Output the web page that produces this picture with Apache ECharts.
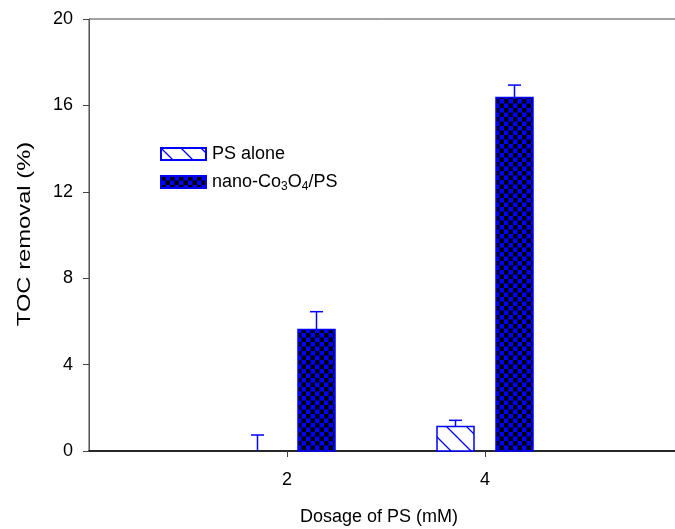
<!DOCTYPE html>
<html>
<head>
<meta charset="utf-8">
<script src="https://cdn.jsdelivr.net/npm/echarts@6/dist/echarts.min.js"></script>
<style>
  html, body { margin: 0; padding: 0; background: #fff; }
  #main { width: 675px; height: 529px; }
</style>
</head>
<body>
<div id="main"></div>
<script>
// data
const dosage = [2, 4];
const psAlone = [0, 1.13];
const psAloneErr = [0.74, 0.29];
const nanoCo = [5.63, 16.37];
const nanoCoErr = [0.82, 0.57];
const yTicks = [0, 4, 8, 12, 16, 20];

const BLUE = '#0000ff';
const FONT = 'Liberation Sans';

// hatch "\" pattern for PS alone
function makeHatch() {
	let c = document.createElement('canvas');
	c.width = 20; c.height = 20;
	let ctx = c.getContext('2d');
	ctx.fillStyle = '#fff';
	ctx.fillRect(0, 0, 20, 20);
	ctx.strokeStyle = BLUE;
	ctx.lineWidth = 1.3;
	ctx.beginPath();
	ctx.moveTo(-2, -2); ctx.lineTo(22, 22);
	ctx.moveTo(18, -2); ctx.lineTo(22, 2);
	ctx.moveTo(-2, 18); ctx.lineTo(2, 22);
	ctx.stroke();
	return c;
}

// checkerboard pattern for nano-Co3O4/PS
function makeChecker() {
	let c = document.createElement('canvas');
	c.width = 9; c.height = 9;
	let ctx = c.getContext('2d');
	ctx.fillStyle = BLUE;
	ctx.fillRect(0, 0, 9, 9);
	ctx.fillStyle = '#000';
	ctx.fillRect(0, 0, 4.5, 4.5);
	ctx.fillRect(4.5, 4.5, 4.5, 4.5);
	return c;
}

const hatchFill = { image: makeHatch(), repeat: 'repeat' };
const checkFill = { image: makeChecker(), repeat: 'repeat' };

function barSeries(name, vals, errs, offset, fill) {
	return {
		name: name,
		type: 'custom',
		itemStyle: { color: fill, borderColor: BLUE, borderWidth: 1.5 },
		data: dosage.map((d, i) => [d, vals[i], errs[i]]),
		renderItem: function (params, api) {
			let x = api.value(0), v = api.value(1), e = api.value(2);
			let base = api.coord([x, 0]);
			let top = api.coord([x, v]);
			let errTop = api.coord([x, v + e]);
			let cx = base[0] + offset;
			let w = 37;
			let children = [];
			if (v > 0) {
				children.push({
					type: 'rect',
					shape: { x: cx - w / 2, y: top[1], width: w, height: base[1] - top[1] },
					style: { fill: fill, stroke: BLUE, lineWidth: 1.5 }
				});
			}
			children.push({
				type: 'line',
				shape: { x1: cx, y1: top[1], x2: cx, y2: errTop[1] },
				style: { stroke: BLUE, lineWidth: 1.5 }
			});
			children.push({
				type: 'line',
				shape: { x1: cx - 6.5, y1: errTop[1], x2: cx + 6.5, y2: errTop[1] },
				style: { stroke: BLUE, lineWidth: 1.5 }
			});
			return { type: 'group', children: children };
		}
	};
}

let chart = echarts.init(document.getElementById('main'), null, { renderer: 'canvas' });

let option = {
	animation: false,
	backgroundColor: '#fff',
	textStyle: { fontFamily: FONT },
	grid: {
		left: 89, width: 594, top: 19, height: 432,
		outerBoundsMode: 'none', containLabel: false,
		show: true, borderColor: '#444', borderWidth: 1, backgroundColor: 'transparent'
	},
	// y title is drawn stretched along its length, like the original
	graphic: [{
		type: 'text',
		x: 25, y: 234,
		rotation: Math.PI / 2,
		scaleX: 1.32,
		style: {
			text: 'TOC removal (%)',
			font: '18px "Liberation Sans"',
			fill: '#000',
			textAlign: 'center',
			textVerticalAlign: 'middle'
		}
	}],
	legend: {
		left: 160, top: 145, orient: 'vertical', padding: 0,
		itemWidth: 45, itemHeight: 12, itemGap: 10,
		icon: 'rect',
		data: ['PS alone', 'nano'],
		formatter: function (name) {
			if (name === 'nano') return '{a|nano-Co}{s|3}{a|O}{s|4}{a|/PS}';
			return '{a|' + name + '}';
		},
		textStyle: {
			fontFamily: FONT, fontSize: 18, color: '#000', padding: [0, 0, 0, 1],
			rich: {
				a: { fontFamily: FONT, fontSize: 18, color: '#000' },
				s: { fontFamily: FONT, fontSize: 12, color: '#000', verticalAlign: 'bottom', padding: [10, 0, 0, 0] }
			}
		}
	},
	xAxis: {
		type: 'value', min: 0, max: 6,
		name: 'Dosage of PS (mM)', nameLocation: 'middle', nameGap: 57,
		nameTextStyle: { fontFamily: FONT, fontSize: 18, color: '#000', padding: [0, 14, 0, 0] },
		splitLine: { show: false },
		axisLine: { lineStyle: { color: '#000', width: 1.5 } },
		axisTick: { show: true, inside: false, length: 6, customValues: dosage, lineStyle: { color: '#444' } },
		axisLabel: { customValues: dosage, fontFamily: FONT, fontSize: 18, color: '#000', margin: 20 }
	},
	yAxis: {
		type: 'value', min: 0, max: 20, interval: 4,
		splitLine: { show: false },
		axisLine: { show: true, lineStyle: { color: '#555', width: 1 } },
		axisTick: { show: true, inside: false, length: 6, lineStyle: { color: '#444' } },
		axisLabel: {
			fontFamily: FONT, fontSize: 18, color: '#000', margin: 16,
			formatter: v => yTicks.indexOf(v) >= 0 ? String(v) : ''
		}
	},
	series: [
		barSeries('PS alone', psAlone, psAloneErr, -29.5, hatchFill),
		barSeries('nano', nanoCo, nanoCoErr, 29.5, checkFill)
	]
};

chart.setOption(option);
</script>
</body>
</html>
